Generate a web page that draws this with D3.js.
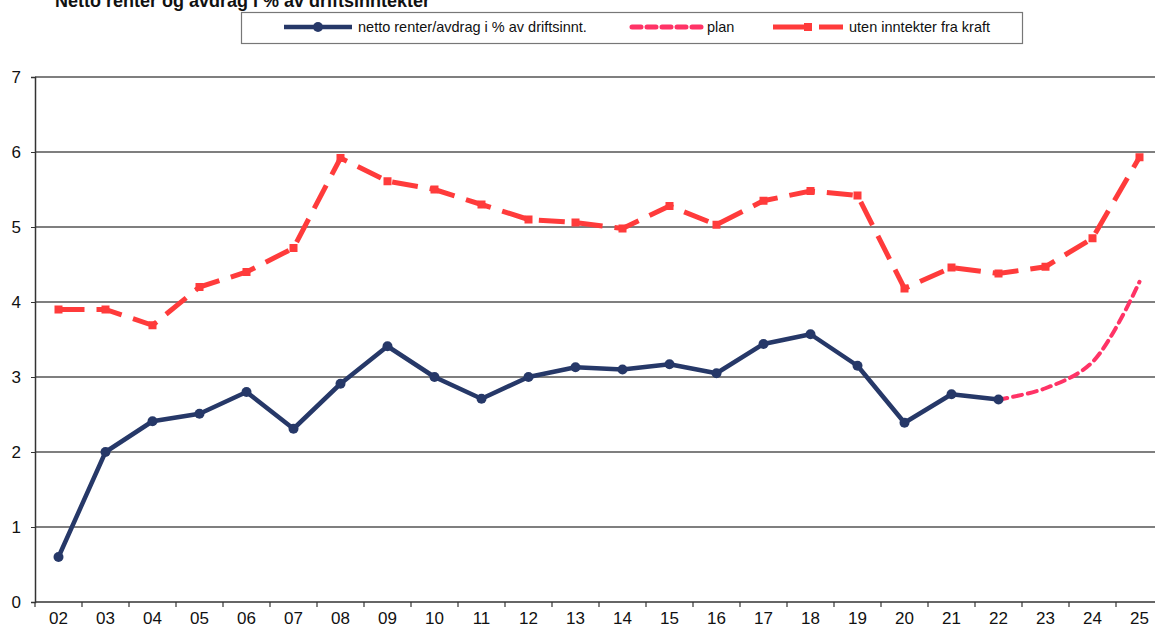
<!DOCTYPE html>
<html><head><meta charset="utf-8">
<script src="https://cdn.jsdelivr.net/npm/d3@7"></script>
<style>body{margin:0;background:#fff;}svg{display:block;font-family:"Liberation Sans",Arial,sans-serif;}</style>
</head><body><svg id="c" width="1155" height="628"></svg>
<script>
const categories = ["02","03","04","05","06","07","08","09","10","11","12","13","14","15","16","17","18","19","20","21","22","23","24","25"];
const nettoValues = [0.6,2.0,2.41,2.51,2.8,2.31,2.91,3.41,3.0,2.71,3.0,3.13,3.1,3.17,3.05,3.44,3.57,3.15,2.39,2.77,2.7];
const planCategories = ["22","23","24","25"];
const planValues = [2.7,2.85,3.2,4.27];
const utenValues = [3.9,3.9,3.69,4.2,4.4,4.72,5.92,5.61,5.5,5.3,5.1,5.06,4.98,5.28,5.03,5.35,5.48,5.42,4.18,4.46,4.38,4.47,4.85,5.93];
const yTicks = [0,1,2,3,4,5,6,7];
const seriesNames = ["netto renter/avdrag i % av driftsinnt.","plan","uten inntekter fra kraft"];
const title = "Netto renter og avdrag i % av driftsinntekter";

const svg = d3.select("#c");
const x = d3.scaleBand().domain(categories).range([35, 1163]);
const y = d3.scaleLinear().domain([0,7]).range([602, 77]);
const cx = c => x(c) + x.bandwidth()/2;

// title (partly cut off at top, as in the original)
svg.append("text").attr("x",55).attr("y",7).attr("font-size",18).attr("font-weight","bold").attr("fill","#111").text(title);

// gridlines
svg.append("g").selectAll("line").data(yTicks.filter(d=>d>0)).join("line")
  .attr("x1",35).attr("x2",1155).attr("y1",d=>y(d)).attr("y2",d=>y(d))
  .attr("stroke","#555").attr("stroke-width",1.3);

// axes
const yAxis = svg.append("g").attr("transform","translate(35,0)")
  .call(d3.axisLeft(y).tickValues(yTicks).tickSize(4).tickPadding(10).tickFormat(d3.format("d")));
const xAxis = svg.append("g").attr("transform","translate(0,602)")
  .call(d3.axisBottom(x).tickSize(0).tickPadding(10));
svg.append("g").selectAll("line").data(d3.range(categories.length+1)).join("line")
  .attr("x1",i=>35+i*x.step()).attr("x2",i=>35+i*x.step()).attr("y1",602).attr("y2",607)
  .attr("stroke","#333").attr("stroke-width",1.2);
[yAxis,xAxis].forEach(a=>{
  a.select(".domain").attr("stroke","#333").attr("stroke-width",1.5);
  a.selectAll(".tick line").attr("stroke","#333");
  a.selectAll("text").attr("font-size",17).attr("fill","#111").attr("font-family","Liberation Sans, Arial, sans-serif");
});
xAxis.select(".domain").attr("d","M35,0H1155");

// uten inntekter fra kraft
const utenData = categories.map((c,i)=>({c,v:utenValues[i]}));
const line = d3.line().x(d=>cx(d.c)).y(d=>y(d.v));
svg.append("path").datum(utenData).attr("d",line).attr("fill","none")
  .attr("stroke","#ff3b3b").attr("stroke-width",5).attr("stroke-dasharray","26,12");
svg.append("g").selectAll("rect").data(utenData).join("rect")
  .attr("x",d=>cx(d.c)-4).attr("y",d=>y(d.v)-4).attr("width",8).attr("height",8).attr("fill","#ff3b3b");

// plan
const planData = planCategories.map((c,i)=>({c,v:planValues[i]}));
svg.append("path").datum(planData).attr("d",d3.line().x(d=>cx(d.c)).y(d=>y(d.v)).curve(d3.curveCatmullRom.alpha(0.5)))
  .attr("fill","none").attr("stroke","#ff3366").attr("stroke-width",4).attr("stroke-dasharray","9,6").attr("stroke-linecap","round");

// netto
const nettoData = nettoValues.map((v,i)=>({c:categories[i],v}));
svg.append("path").datum(nettoData).attr("d",line).attr("fill","none")
  .attr("stroke","#263868").attr("stroke-width",4.5).attr("stroke-linejoin","round");
svg.append("g").selectAll("circle").data(nettoData).join("circle")
  .attr("cx",d=>cx(d.c)).attr("cy",d=>y(d.v)).attr("r",5).attr("fill","#263868");

// legend
const lg = svg.append("g");
lg.append("rect").attr("x",241.5).attr("y",12.5).attr("width",781).attr("height",31).attr("fill","#fff").attr("stroke","#777").attr("stroke-width",1.2);
const ly = 27;
lg.append("line").attr("x1",284).attr("x2",352).attr("y1",ly).attr("y2",ly).attr("stroke","#263868").attr("stroke-width",4.5);
lg.append("circle").attr("cx",318).attr("cy",ly).attr("r",5).attr("fill","#263868");
lg.append("line").attr("x1",632).attr("x2",702).attr("y1",ly).attr("y2",ly).attr("stroke","#ff3366").attr("stroke-width",5).attr("stroke-dasharray","9,6").attr("stroke-linecap","round");
lg.append("line").attr("x1",773).attr("x2",843).attr("y1",ly).attr("y2",ly).attr("stroke","#ff3b3b").attr("stroke-width",5).attr("stroke-dasharray","38,8");
lg.append("rect").attr("x",804).attr("y",ly-4).attr("width",8).attr("height",8).attr("fill","#ff3b3b");
const lx = [358,707,849];
seriesNames.forEach((n,i)=>lg.append("text").attr("x",lx[i]).attr("y",ly+5).attr("font-size",14.5).attr("fill","#111").text(n));
</script></body></html>
